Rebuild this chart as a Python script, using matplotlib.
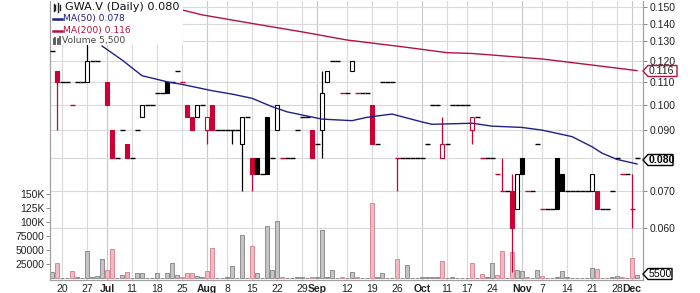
import numpy as np
import pandas as pd
import matplotlib
matplotlib.use('Agg')
import matplotlib.pyplot as plt
from matplotlib.patches import Rectangle, Polygon
from matplotlib.lines import Line2D
from matplotlib.ticker import FixedLocator, NullLocator, FixedFormatter
from matplotlib.transforms import blended_transform_factory

# ---------------- data ----------------
holidays = ['2016-07-01', '2016-08-01', '2016-09-05', '2016-10-10']
dates = pd.bdate_range('2016-06-16', '2016-12-02')
dates = dates[~dates.isin(pd.to_datetime(holidays))]

opens = [0.125, 0.115, 0.110, 0.110, 0.100, 0.110, 0.110, 0.110, 0.120, 0.120,
         0.130, 0.110, 0.090, 0.080, 0.090, 0.085, 0.080, 0.090, 0.095, 0.100,
         0.100, 0.105, 0.105, 0.110, 0.110, 0.115, 0.110, 0.100, 0.095, 0.095,
         0.100, 0.090, 0.100, 0.090, 0.090, 0.090, 0.090, 0.090, 0.085, 0.095,
         0.080, 0.080, 0.075, 0.095, 0.080, 0.090, 0.080, 0.080, 0.080, 0.090,
         0.095, 0.095, 0.090, 0.085, 0.090, 0.110, 0.120, 0.120, 0.105, 0.105,
         0.115, 0.105, 0.105, 0.105, 0.100, 0.085, 0.110, 0.110, 0.110, 0.080,
         0.080, 0.080, 0.080, 0.080, 0.080, 0.085, 0.100, 0.100, 0.080, 0.085,
         0.100, 0.100, 0.100, 0.100, 0.090, 0.095, 0.080, 0.080, 0.080, 0.075,
         0.070, 0.070, 0.070, 0.065, 0.080, 0.070, 0.070, 0.085, 0.065, 0.065,
         0.065, 0.080, 0.075, 0.070, 0.070, 0.070, 0.070, 0.070, 0.070, 0.070,
         0.065, 0.065, 0.070, 0.080, 0.075, 0.075, 0.065, 0.080]
highs = [0.125, 0.115, 0.110, 0.110, 0.100, 0.110, 0.110, 0.130, 0.120, 0.120,
         0.135, 0.110, 0.090, 0.080, 0.090, 0.085, 0.080, 0.090, 0.100, 0.100,
         0.100, 0.105, 0.105, 0.110, 0.110, 0.115, 0.110, 0.100, 0.095, 0.100,
         0.100, 0.095, 0.100, 0.090, 0.090, 0.090, 0.090, 0.090, 0.095, 0.095,
         0.080, 0.080, 0.075, 0.095, 0.080, 0.100, 0.080, 0.080, 0.080, 0.090,
         0.095, 0.095, 0.090, 0.085, 0.115, 0.115, 0.120, 0.120, 0.105, 0.105,
         0.120, 0.105, 0.105, 0.105, 0.100, 0.085, 0.110, 0.110, 0.110, 0.080,
         0.080, 0.080, 0.080, 0.080, 0.080, 0.085, 0.100, 0.100, 0.095, 0.085,
         0.100, 0.100, 0.100, 0.100, 0.095, 0.095, 0.080, 0.080, 0.080, 0.075,
         0.080, 0.070, 0.075, 0.075, 0.080, 0.070, 0.070, 0.085, 0.065, 0.065,
         0.065, 0.080, 0.075, 0.070, 0.070, 0.070, 0.070, 0.070, 0.075, 0.070,
         0.065, 0.065, 0.070, 0.080, 0.075, 0.075, 0.075, 0.080]
lows = [0.125, 0.090, 0.110, 0.110, 0.100, 0.110, 0.110, 0.110, 0.120, 0.120,
        0.130, 0.100, 0.080, 0.080, 0.090, 0.080, 0.080, 0.090, 0.095, 0.100,
        0.100, 0.105, 0.105, 0.105, 0.110, 0.115, 0.110, 0.095, 0.090, 0.095,
        0.100, 0.085, 0.090, 0.090, 0.090, 0.090, 0.085, 0.090, 0.070, 0.095,
        0.070, 0.075, 0.075, 0.075, 0.080, 0.090, 0.080, 0.080, 0.080, 0.090,
        0.095, 0.095, 0.080, 0.085, 0.080, 0.110, 0.120, 0.120, 0.105, 0.105,
        0.115, 0.105, 0.105, 0.105, 0.085, 0.085, 0.110, 0.110, 0.110, 0.070,
        0.080, 0.080, 0.080, 0.080, 0.080, 0.085, 0.100, 0.100, 0.080, 0.085,
        0.100, 0.100, 0.100, 0.100, 0.085, 0.095, 0.080, 0.080, 0.080, 0.075,
        0.070, 0.070, 0.050, 0.065, 0.075, 0.070, 0.070, 0.085, 0.065, 0.065,
        0.065, 0.065, 0.070, 0.070, 0.070, 0.070, 0.070, 0.070, 0.070, 0.065,
        0.065, 0.065, 0.070, 0.080, 0.075, 0.075, 0.060, 0.080]
closes = [0.125, 0.110, 0.110, 0.110, 0.100, 0.110, 0.110, 0.120, 0.120, 0.120,
          0.135, 0.100, 0.080, 0.080, 0.090, 0.080, 0.080, 0.090, 0.100, 0.100,
          0.100, 0.105, 0.105, 0.105, 0.110, 0.115, 0.110, 0.095, 0.090, 0.100,
          0.100, 0.095, 0.090, 0.090, 0.090, 0.090, 0.090, 0.090, 0.095, 0.095,
          0.075, 0.075, 0.075, 0.075, 0.080, 0.100, 0.080, 0.080, 0.080, 0.090,
          0.095, 0.095, 0.080, 0.085, 0.105, 0.115, 0.120, 0.120, 0.105, 0.105,
          0.120, 0.105, 0.105, 0.105, 0.085, 0.085, 0.110, 0.110, 0.110, 0.080,
          0.080, 0.080, 0.080, 0.080, 0.080, 0.085, 0.100, 0.100, 0.085, 0.085,
          0.100, 0.100, 0.100, 0.100, 0.095, 0.095, 0.080, 0.080, 0.080, 0.075,
          0.070, 0.070, 0.060, 0.075, 0.075, 0.070, 0.070, 0.085, 0.065, 0.065,
          0.065, 0.065, 0.070, 0.070, 0.070, 0.070, 0.070, 0.070, 0.075, 0.065,
          0.065, 0.065, 0.070, 0.080, 0.075, 0.075, 0.065, 0.080]
volumes = [10600, 26000, 0, 0, 12000, 1500, 0, 47700, 1000, 4000,
           34700, 15000, 52000, 0, 5000, 10000, 0, 8000, 8000, 0,
           0, 8000, 0, 8000, 26000, 6000, 2000, 8000, 8000, 3000,
           1000, 12000, 54000, 0, 0, 1500, 21000, 0, 76000, 0,
           56500, 8000, 0, 92000, 14000, 101000, 1500, 0, 0, 2000,
           2000, 0, 2000, 1000, 86000, 2000, 14000, 0, 1000, 0,
           10000, 1000, 0, 0, 134000, 1000, 8000, 0, 0, 33600,
           0, 23000, 0, 0, 1000, 2000, 2000, 2000, 30000, 0,
           2000, 0, 0, 0, 26000, 0, 6500, 1000, 26000, 5000,
           47700, 0, 46500, 15000, 13000, 2000, 0, 14000, 3000, 0,
           0, 2000, 12000, 2000, 0, 0, 0, 0, 17000, 16000,
           0, 0, 1000, 3000, 1000, 0, 35000, 5500]

ma50_pos = [10, 14, 18, 23, 26, 32, 36, 40, 44, 47, 54, 60, 63, 68, 74, 76,
            84, 88, 94, 98, 104, 108, 110, 113, 117]
ma50_val = [0.1276, 0.1204, 0.1128, 0.1100, 0.1088, 0.1060, 0.1045, 0.1027,
            0.0992, 0.0971, 0.0942, 0.0936, 0.0949, 0.0962, 0.0931, 0.0922,
            0.0926, 0.0915, 0.0910, 0.0900, 0.0876, 0.0840, 0.0818, 0.0797, 0.0782]
ma200_pos = [26, 30, 40, 50, 59, 70, 79, 84, 98, 108, 117]
ma200_val = [0.1482, 0.1452, 0.1401, 0.1353, 0.1308, 0.1272, 0.1241, 0.1237,
             0.1209, 0.1179, 0.1152]

tick_dates = ['2016-06-20', '2016-06-27', '2016-07-04', '2016-07-11', '2016-07-18',
              '2016-07-25', '2016-08-02', '2016-08-08', '2016-08-15', '2016-08-22',
              '2016-08-29', '2016-09-01', '2016-09-12', '2016-09-19', '2016-09-26',
              '2016-10-03', '2016-10-11', '2016-10-17', '2016-10-24', '2016-11-01',
              '2016-11-07', '2016-11-14', '2016-11-21', '2016-11-28', '2016-12-01']
tick_labels = ['20', '27', 'Jul', '11', '18', '25', 'Aug', '8', '15', '22', '29', 'Sep',
               '12', '19', '26', 'Oct', '11', '17', '24', 'Nov', '7', '14', '21', '28', 'Dec']
month_labels = {'Jul', 'Aug', 'Sep', 'Oct', 'Nov', 'Dec'}

price_ticks = [0.06, 0.07, 0.08, 0.09, 0.10, 0.11, 0.12, 0.13, 0.14, 0.15]
vol_ticks = [25000, 50000, 75000, 100000, 125000, 150000]
vol_tick_labels = ['25000', '50000', '75000', '100K', '125K', '150K']

# ---------------- style ----------------
RED = '#cc0033'
NAVY = '#1f1f8a'
CRIMSON = '#b3123f'
GRID = '#d9d9d9'
W, H = 700, 293

plt.rcParams['font.family'] = ['Liberation Sans', 'DejaVu Sans']
fig = plt.figure(figsize=(W / 100, H / 100), dpi=100)
rect = [50 / W, 13 / H, 593 / W, 279 / H]
axv = fig.add_axes(rect)
ax = fig.add_axes(rect, sharex=axv)
ax.set_zorder(2)
ax.patch.set_visible(False)
axv.set_zorder(1)

x = np.arange(len(dates))
o = np.array(opens); h = np.array(highs); l = np.array(lows); c = np.array(closes)
v = np.array(volumes)
prev = np.concatenate([[c[0]], c[:-1]])
down = c < prev

# grid lines (behind everything)
tick_pos = [dates.get_loc(pd.Timestamp(d)) for d in tick_dates]
for tp, lab in zip(tick_pos, tick_labels):
    axv.axvline(tp, color='#c8c8c8' if lab in month_labels else GRID, lw=0.8, zorder=0)
btf = blended_transform_factory(axv.transAxes, ax.transData)
for pt in price_ticks:
    axv.plot([0, 1], [pt, pt], transform=btf, color=GRID, lw=0.8, zorder=0)

# volume bars
vcol = np.where(down, '#f3b9c3', '#c4c4c4')
vedge = np.where(down, '#d98a9a', '#8f8f8f')
axv.bar(x, v, width=0.8, color=vcol, edgecolor=vedge, linewidth=0.7, zorder=2)
axv.set_ylim(-3600, 494000)

# candlesticks
for i in range(len(x)):
    col = RED if down[i] else 'black'
    if h[i] > l[i]:
        ax.vlines(x[i], l[i], h[i], color=col, lw=0.9, zorder=2)
    if o[i] == c[i]:
        ax.hlines(c[i], x[i] - 0.5, x[i] + 0.5, color=col, lw=1.0, zorder=3)
    else:
        lo, hi = min(o[i], c[i]), max(o[i], c[i])
        face = 'white' if c[i] > o[i] else col
        ax.bar(x[i], hi - lo, bottom=lo, width=0.82, color=face, edgecolor=col,
               linewidth=0.8, zorder=3)

ax.plot(ma50_pos, ma50_val, color=NAVY, lw=1.0, zorder=4)
ax.plot(ma200_pos, ma200_val, color=CRIMSON, lw=1.0, zorder=4)

# axes scales
ax.set_yscale('log')
ax.set_ylim(0.04832, 0.15378)
ax.set_xlim(-0.4, 118.2)

ax.yaxis.tick_right()
ax.yaxis.set_major_locator(FixedLocator(price_ticks))
ax.yaxis.set_minor_locator(NullLocator())
ax.yaxis.set_major_formatter(FixedFormatter(['' if p == 0.08 else f'{p:.3f}' for p in price_ticks]))
ax.tick_params(axis='y', which='both', length=3, width=0.6, color='#777777', pad=2,
               labelsize=7.5, labelcolor='#222222', left=False, labelleft=False)

axv.yaxis.set_major_locator(FixedLocator(vol_ticks))
axv.yaxis.set_major_formatter(FixedFormatter(vol_tick_labels))
axv.tick_params(axis='y', length=3, width=0.6, color='#777777', pad=1, labelsize=7.5,
                labelcolor='#222222', right=False)

ax.xaxis.set_major_locator(FixedLocator(tick_pos))
ax.xaxis.set_major_formatter(FixedFormatter(tick_labels))
ax.tick_params(axis='x', length=0, pad=3, labelsize=7.5, labelcolor='#222222')
for t in ax.get_xticklabels():
    if t.get_text() in month_labels:
        t.set_fontweight('bold')
axv.tick_params(axis='x', length=0, labelbottom=False)

for a in (ax, axv):
    for s in a.spines.values():
        s.set_color('#a0a0a0')
        s.set_linewidth(0.8)
ax.spines['top'].set_visible(False)
axv.spines['top'].set_visible(False)


def P(px, py):
    return (px / W, 1 - py / H)


# legend (opaque background upper-left)
fig.add_artist(Rectangle(P(50.6, 45), 132 / W, 44.5 / H, transform=fig.transFigure,
                         facecolor='white', edgecolor='none', zorder=5))
lf = ['DejaVu Sans']
fig.text(*P(65, 7.5), 'GWA.V (Daily) 0.080', fontsize=8.1, family=lf, va='center',
         color='#111111', zorder=6)
fig.text(*P(63, 19), 'MA(50) 0.078', fontsize=6.6, family=lf, va='center', color=NAVY, zorder=6)
fig.text(*P(63, 30.5), 'MA(200) 0.116', fontsize=6.6, family=lf, va='center', color=CRIMSON, zorder=6)
fig.text(*P(62, 41), 'Volume 5,500', fontsize=6.6, family=lf, va='center', color='#444444', zorder=6)
# legend icons
for xx, y0, y1 in [(53.5, 4, 11), (55.5, 5, 10), (58, 3, 12), (60, 5, 10)]:
    fig.add_artist(Line2D([xx / W, xx / W], [1 - y1 / H, 1 - y0 / H], transform=fig.transFigure,
                          color='#222222', lw=1.0, zorder=6))
fig.add_artist(Line2D([53 / W, 62 / W], [1 - 19 / H] * 2, transform=fig.transFigure,
                      color=NAVY, lw=1.8, zorder=6))
fig.add_artist(Line2D([53 / W, 62 / W], [1 - 30.5 / H] * 2, transform=fig.transFigure,
                      color=CRIMSON, lw=1.8, zorder=6))
for xx, ytop in [(53.5, 39), (55.5, 37.5), (57.5, 38.5), (59.5, 37)]:
    fig.add_artist(Line2D([xx / W, xx / W], [1 - 44 / H, 1 - ytop / H], transform=fig.transFigure,
                          color='#555555', lw=1.3, zorder=6))


# right-side value tags
def tag(yc, text, ec, tc, bold=False, width=34):
    pts = [P(643, yc), P(648, yc - 5.5), P(643 + width, yc - 5.5),
           P(643 + width, yc + 5.5), P(648, yc + 5.5)]
    fig.add_artist(Polygon(pts, closed=True, transform=fig.transFigure,
                           facecolor='white', edgecolor=ec, lw=1.0, zorder=7))
    fig.text(*P(648.5, yc), text, fontsize=7.6, va='center', ha='left', color=tc,
             fontweight='bold' if bold else 'normal', zorder=8)


tag(71, '0.116', CRIMSON, '#222222')
tag(160, '0.080', 'black', 'black', bold=True, width=30)
tag(274, '5500', 'black', 'black', width=29)

fig.savefig('out.png', dpi=100)
